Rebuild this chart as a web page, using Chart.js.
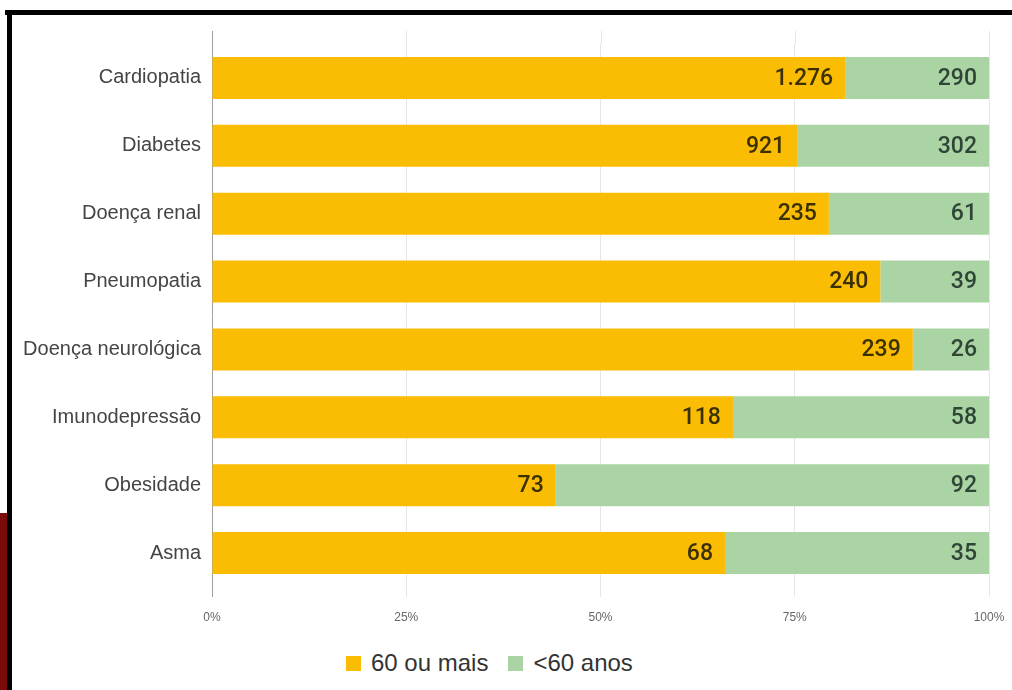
<!DOCTYPE html>
<html>
<head>
<meta charset="utf-8">
<script src="https://cdn.jsdelivr.net/npm/chart.js@4"></script>
<style>
  html, body { margin: 0; padding: 0; background: #fff; }
  body { width: 1012px; height: 690px; position: relative; overflow: hidden; }
  #wrap { position: absolute; left: 0; top: 0; width: 1012px; height: 640px; }
  #frameTop { position: absolute; left: 5px; top: 10px; width: 1007px; height: 5px; background: #000; }
  #frameLeft { position: absolute; left: 7px; top: 10px; width: 5px; height: 680px; background: #000; }
  #redStrip { position: absolute; left: 0; top: 513px; width: 7px; height: 177px; background: #7b0b0b; }
  #legend { position: absolute; left: 346px; top: 649px; display: flex; align-items: center;
            font-family: 'Liberation Sans', Arial, sans-serif; font-size: 24px; color: #333; }
  #legend .item { display: flex; align-items: center; margin-right: 20px; }
  #legend .box { width: 15px; height: 15px; margin-right: 10px; }
</style>
</head>
<body>
<div id="wrap"><canvas id="riskChart"></canvas></div>
<div id="legend"></div>
<div id="frameTop"></div>
<div id="frameLeft"></div>
<div id="redStrip"></div>
<script>
// categorias e contagens
const categories = ['Cardiopatia', 'Diabetes', 'Doença renal', 'Pneumopatia',
    'Doença neurológica', 'Imunodepressão', 'Obesidade', 'Asma'];
const older = [1276, 921, 235, 240, 239, 118, 73, 68];   // 60 ou mais
const younger = [290, 302, 61, 39, 26, 58, 92, 35];      // <60 anos
const seriesNames = ['60 ou mais', '<60 anos'];
const xTicks = [0, 25, 50, 75, 100];

const colors = ['#fbbc04', '#abd4a5'];
const labelColors = ['#3b3000', '#2f4536'];

// participação de cada grupo (barra 100%)
const totals = older.map((v, i) => v + younger[i]);
const olderPct = older.map((v, i) => v / totals[i] * 100);
const youngerPct = younger.map((v, i) => v / totals[i] * 100);
const rawCounts = [older, younger];

// rótulos dentro das barras
const barLabels = {
    id: 'barLabels',
    afterDatasetsDraw(chart) {
        const ctx = chart.ctx;
        ctx.save();
        ctx.font = '500 23px Roboto, sans-serif';
        ctx.textAlign = 'right';
        ctx.textBaseline = 'middle';
        chart.data.datasets.forEach((ds, di) => {
            const meta = chart.getDatasetMeta(di);
            meta.data.forEach((bar, i) => {
                ctx.fillStyle = labelColors[di];
                ctx.fillText(rawCounts[di][i].toLocaleString('pt-BR'), bar.x - 12, bar.y + 1);
            });
        });
        ctx.restore();
    }
};

// prolonga as linhas de grade acima da área do gráfico
const gridExtend = {
    id: 'gridExtend',
    beforeDatasetsDraw(chart) {
        const ctx = chart.ctx;
        const x = chart.scales.x;
        const top = chart.chartArea.top;
        ctx.save();
        ctx.lineWidth = 1;
        x.ticks.forEach(t => {
            const px = Math.round(x.getPixelForValue(t.value)) + 0.5;
            ctx.strokeStyle = t.value === 0 ? '#9e9e9e' : '#e6e6e6';
            ctx.beginPath();
            ctx.moveTo(px, top - 13);
            ctx.lineTo(px, top);
            ctx.stroke();
        });
        ctx.restore();
    }
};

const riskChart = new Chart(document.getElementById('riskChart'), {
    type: 'bar',
    data: {
        labels: categories,
        datasets: [
            { label: seriesNames[0], data: olderPct, backgroundColor: colors[0] },
            { label: seriesNames[1], data: youngerPct, backgroundColor: colors[1] }
        ]
    },
    options: {
        indexAxis: 'y',
        responsive: true,
        maintainAspectRatio: false,
        animation: false,
        layout: { padding: { top: 44, right: 23, left: 0, bottom: 0 } },
        datasets: { bar: { categoryPercentage: 1, barPercentage: 0.62 } },
        plugins: { legend: { display: false }, tooltip: { enabled: false } },
        scales: {
            x: {
                stacked: true,
                min: 0,
                max: 100,
                afterBuildTicks(scale) { scale.ticks = xTicks.map(v => ({ value: v })); },
                afterFit(scale) {
                    scale.height = 53;
                    scale.paddingLeft = 0;
                    scale.paddingRight = 0;
                },
                border: { display: false },
                grid: {
                    color: c => c.tick && c.tick.value === 0 ? '#9e9e9e' : '#e6e6e6',
                    tickLength: 10
                },
                ticks: {
                    padding: 13,
                    color: '#666',
                    font: { family: 'Liberation Sans, Arial, sans-serif', size: 12 },
                    callback: v => v + '%'
                }
            },
            y: {
                stacked: true,
                afterFit(scale) { scale.width = 212; },
                border: { display: false },
                grid: { display: false, drawTicks: false },
                ticks: {
                    padding: 11,
                    color: '#444',
                    font: { family: 'Liberation Sans, Arial, sans-serif', size: 20 }
                }
            }
        }
    },
    plugins: [barLabels, gridExtend]
});

// legenda em HTML, montada a partir dos datasets
const legendEl = document.getElementById('legend');
riskChart.data.datasets.forEach(ds => {
    const item = document.createElement('div');
    item.className = 'item';
    const box = document.createElement('span');
    box.className = 'box';
    box.style.background = ds.backgroundColor;
    const txt = document.createElement('span');
    txt.textContent = ds.label;
    item.appendChild(box);
    item.appendChild(txt);
    legendEl.appendChild(item);
});
</script>
</body>
</html>
